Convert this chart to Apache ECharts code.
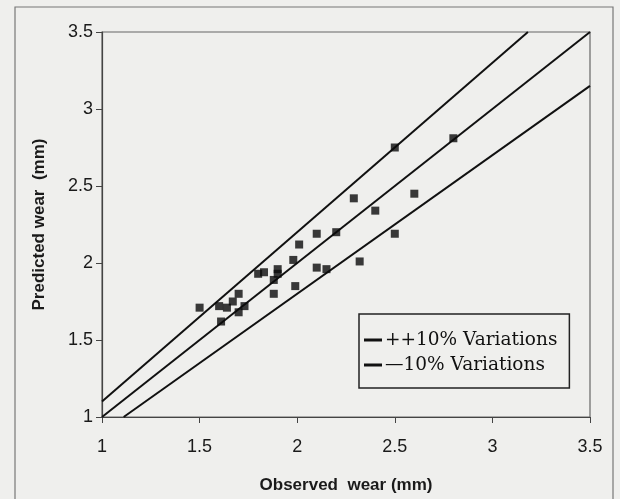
<!DOCTYPE html>
<html>
<head>
<meta charset="utf-8">
<script src="https://cdn.jsdelivr.net/npm/echarts@6/dist/echarts.min.js"></script>
<style>
html,body{margin:0;padding:0;background:#efefed;}
#chart{width:620px;height:499px;}
</style>
</head>
<body>
<div id="chart"></div>
<script>
// Observed vs predicted wear (mm)
var observed = [1.50, 1.60, 1.61, 1.64, 1.67, 1.70, 1.70, 1.73, 1.80, 1.83, 1.88, 1.88, 1.90, 1.90,
  1.98, 1.99, 2.01, 2.10, 2.10, 2.15, 2.20, 2.29, 2.32, 2.40, 2.50, 2.60, 2.50, 2.80];
var predicted = [1.71, 1.72, 1.62, 1.71, 1.75, 1.80, 1.68, 1.72, 1.93, 1.94, 1.89, 1.80, 1.96, 1.93,
  2.02, 1.85, 2.12, 2.19, 1.97, 1.96, 2.20, 2.42, 2.01, 2.34, 2.19, 2.45, 2.75, 2.81];
// reference lines: y = x, y = 1.1x, y = 0.9x (clipped to the axes)
var equalX = [1, 3.5],     equalY = [1, 3.5];
var plusX  = [1, 3.182],   plusY  = [1.1, 3.5];
var minusX = [1.111, 3.5], minusY = [1, 3.15];
var axisTicks = [1, 1.5, 2, 2.5, 3, 3.5];
var plusName = '++10% Variations';
var minusName = '\u201410% Variations';

function pairs(xs, ys){ return xs.map(function(x,i){ return [x, ys[i]]; }); }

var chart = echarts.init(document.getElementById('chart'), null, {renderer:'canvas'});
var axisFont = {fontFamily:'Liberation Sans, Arial, sans-serif', fontSize:18, color:'#1a1a1a'};
var nameFont = {fontFamily:'Liberation Sans, Arial, sans-serif', fontSize:17, fontWeight:'bold', color:'#1a1a1a'};
var lineStyle = {color:'#111', width:2};

chart.setOption({
  backgroundColor:'#efefed',
  animation:false,
  graphic:[{
    type:'rect', shape:{x:15, y:7, width:598, height:540},
    style:{fill:'none', stroke:'#777', lineWidth:1.2}, silent:true
  }],
  grid:{left:102, right:30, top:32, bottom:82, show:true, borderColor:'#666', borderWidth:1.2, backgroundColor:'transparent'},
  legend:{
    data:[plusName, minusName],
    orient:'vertical', left:359, top:314,
    icon:'rect', itemWidth:18, itemHeight:3, itemGap:5,
    padding:[16, 12, 13, 5],
    borderColor:'#222', borderWidth:1.5, backgroundColor:'#efefed',
    selectedMode:false,
    textStyle:{fontFamily:'DejaVu Serif, serif', fontSize:18.5, color:'#111', lineHeight:20, padding:[0,0,0,-2]}
  },
  xAxis:{
    type:'value', min:axisTicks[0], max:axisTicks[axisTicks.length-1], interval:0.5,
    name:'Observed  wear (mm)', nameLocation:'middle', nameGap:60, nameTextStyle:nameFont,
    axisLine:{show:true, lineStyle:{color:'#444', width:1.2}},
    axisTick:{show:true, inside:false, length:6, lineStyle:{color:'#444'}},
    axisLabel:Object.assign({margin:21}, axisFont),
    splitLine:{show:false}
  },
  yAxis:{
    type:'value', min:axisTicks[0], max:axisTicks[axisTicks.length-1], interval:0.5,
    name:'Predicted wear  (mm)', nameLocation:'middle', nameGap:54, nameTextStyle:nameFont,
    axisLine:{show:true, lineStyle:{color:'#444', width:1.2}},
    axisTick:{show:true, inside:false, length:6, lineStyle:{color:'#444'}},
    axisLabel:Object.assign({margin:9}, axisFont),
    splitLine:{show:false}
  },
  series:[
    {type:'line', name:'equal', data:pairs(equalX, equalY), showSymbol:false, lineStyle:lineStyle, itemStyle:{color:'#111'}, z:2},
    {type:'line', name:plusName, data:pairs(plusX, plusY), showSymbol:false, lineStyle:lineStyle, itemStyle:{color:'#111'}, z:2},
    {type:'line', name:minusName, data:pairs(minusX, minusY), showSymbol:false, lineStyle:lineStyle, itemStyle:{color:'#111'}, z:2},
    {type:'scatter', name:'data', data:pairs(observed, predicted), symbol:'rect', symbolSize:8, itemStyle:{color:'#0a0a0a'}, z:3}
  ]
});
</script>
</body>
</html>
